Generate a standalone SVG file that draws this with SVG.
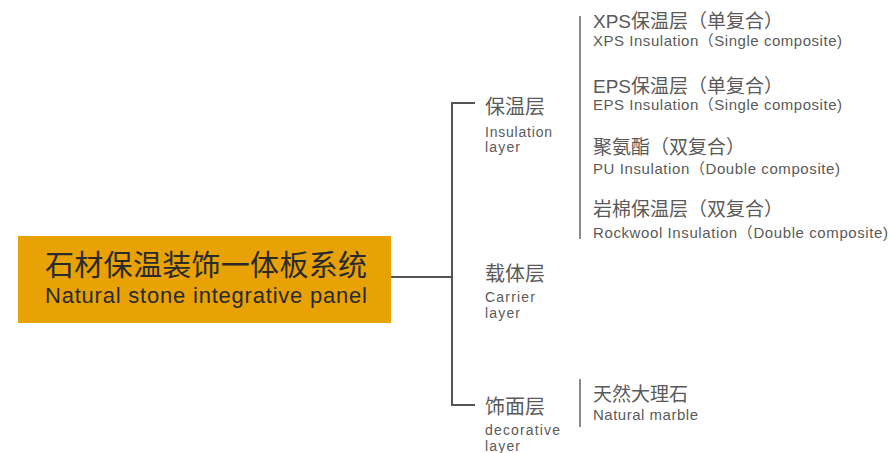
<svg xmlns="http://www.w3.org/2000/svg" width="890" height="453" viewBox="0 0 890 453">
<style>
text{font-family:"Liberation Sans","Noto Sans CJK SC",sans-serif;fill:#5a5a5a}
.zh{font-size:19px}
.en{font-size:15px}
.ln{font-size:14px}
.lz{font-size:20px}
.line{stroke:#555;stroke-width:2;fill:none}
.thin{stroke:#666;stroke-width:1.5;fill:none}
</style>
<rect width="890" height="453" fill="#fff"/>
<g id="connectors">
<path class="line" d="M391 277H452M475 103H452V405H475"/>
<path class="thin" d="M580 16V239M580 379V427"/>
</g>
<g id="root">
<rect x="18" y="236" width="373" height="87" fill="#E8A205"/>
<text x="45" y="276" style="font-size:29px;fill:#2a2a2a" textLength="322" lengthAdjust="spacing">石材保温装饰一体板系统</text>
<text x="45" y="303" style="font-size:22px;fill:#2a2a2a" textLength="322" lengthAdjust="spacing">Natural stone integrative panel</text>
</g>
<g id="insulation">
<text class="lz" x="485" y="114">保温层</text>
<text class="ln" x="485" y="137" textLength="67" lengthAdjust="spacing">Insulation</text>
<text class="ln" x="485" y="152" textLength="35" lengthAdjust="spacing">layer</text>
</g>
<g id="carrier">
<text class="lz" x="485" y="281">载体层</text>
<text class="ln" x="485" y="302" textLength="50" lengthAdjust="spacing">Carrier</text>
<text class="ln" x="485" y="318" textLength="35" lengthAdjust="spacing">layer</text>
</g>
<g id="decorative">
<text class="lz" x="485" y="414">饰面层</text>
<text class="ln" x="485" y="435" textLength="75" lengthAdjust="spacing">decorative</text>
<text class="ln" x="485" y="451" textLength="35" lengthAdjust="spacing">layer</text>
</g>
<g id="xps">
<text class="zh" x="593" y="28">XPS保温层（单复合）</text>
<text class="en" x="593" y="46" textLength="249" lengthAdjust="spacing">XPS Insulation（Single composite)</text>
</g>
<g id="eps">
<text class="zh" x="593" y="93">EPS保温层（单复合）</text>
<text class="en" x="593" y="110" textLength="249" lengthAdjust="spacing">EPS Insulation（Single composite)</text>
</g>
<g id="pu">
<text class="zh" x="593" y="154">聚氨酯（双复合）</text>
<text class="en" x="593" y="174" textLength="247" lengthAdjust="spacing">PU Insulation（Double composite)</text>
</g>
<g id="rockwool">
<text class="zh" x="593" y="216">岩棉保温层（双复合）</text>
<text class="en" x="593" y="238" textLength="295" lengthAdjust="spacing">Rockwool Insulation（Double composite)</text>
</g>
<g id="marble">
<text class="zh" x="593" y="401">天然大理石</text>
<text class="en" x="593" y="420" textLength="105" lengthAdjust="spacing">Natural marble</text>
</g>
</svg>
